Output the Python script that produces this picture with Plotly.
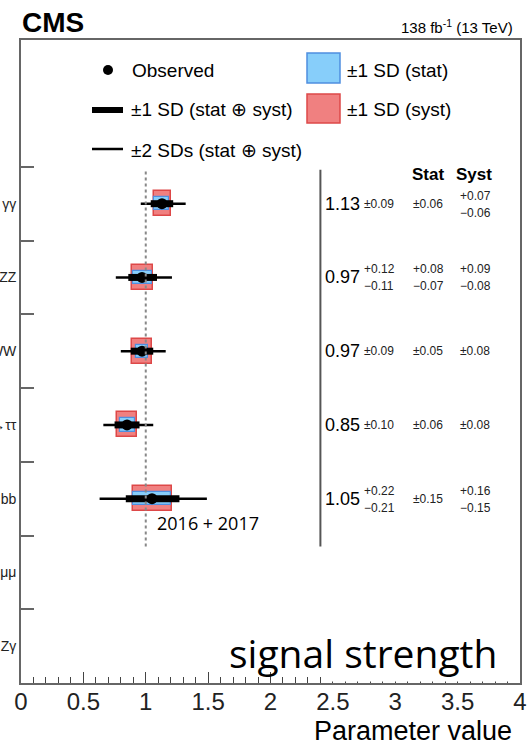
import plotly.graph_objects as go

# ---------------- data ----------------
categories = ["H→γγ", "H→ZZ", "H→WW", "H→ττ", "H→bb", "H→μμ", "H→Zγ"]
cat_y = [6.5, 5.5, 4.5, 3.5, 2.5, 1.5, 0.5]

# measured channels (first five categories)
mu = [1.13, 0.97, 0.97, 0.85, 1.05]
tot_up = [0.09, 0.12, 0.09, 0.10, 0.22]
tot_dn = [0.09, 0.11, 0.09, 0.10, 0.21]
stat_up = [0.06, 0.08, 0.05, 0.06, 0.15]
stat_dn = [0.06, 0.07, 0.05, 0.06, 0.15]
syst_up = [0.07, 0.09, 0.08, 0.08, 0.16]
syst_dn = [0.06, 0.08, 0.08, 0.08, 0.15]
two_up = [0.19, 0.24, 0.19, 0.21, 0.44]
two_dn = [0.17, 0.21, 0.17, 0.19, 0.42]

x_ticks = [0, 0.5, 1, 1.5, 2, 2.5, 3, 3.5, 4]
x_tick_labels = ["0", "0.5", "1", "1.5", "2", "2.5", "3", "3.5", "4"]

# ---------------- layout geometry ----------------
W, H = 528, 740
PL, PR, PT, PB = 21, 520, 40, 683
def px_x(px):
    return (px - PL) / (PR - PL)
def px_y(py):
    return (PB - py) / (PB - PT)

FONT = "Liberation Sans, Arial, Helvetica, sans-serif"
RED_FILL, RED_LINE = "#f08080", "#dd4848"
BLUE_FILL, BLUE_LINE = "#87cefa", "#4f8fe0"

n = len(mu)
ys = cat_y[:n]

fig = go.Figure()

# syst boxes (red)
fig.add_trace(go.Bar(
    orientation="h", y=ys,
    x=[u + d for u, d in zip(syst_up, syst_dn)],
    base=[m - d for m, d in zip(mu, syst_dn)],
    width=0.34, marker=dict(color=RED_FILL, line=dict(color=RED_LINE, width=1.5)),
    showlegend=False, hoverinfo="skip"))
# stat boxes (blue)
fig.add_trace(go.Bar(
    orientation="h", y=ys,
    x=[u + d for u, d in zip(stat_up, stat_dn)],
    base=[m - d for m, d in zip(mu, stat_dn)],
    width=0.18, marker=dict(color=BLUE_FILL, line=dict(color=BLUE_LINE, width=1.2)),
    showlegend=False, hoverinfo="skip"))

def seg(lo, hi, yv):
    xs, yy = [], []
    for a, b, c in zip(lo, hi, yv):
        xs += [a, b, None]
        yy += [c, c, None]
    return xs, yy

# +-2 SD thin lines
xs, yy = seg([m - d for m, d in zip(mu, two_dn)], [m + u for m, u in zip(mu, two_up)], ys)
fig.add_trace(go.Scatter(x=xs, y=yy, mode="lines", line=dict(color="black", width=2.5),
                         showlegend=False, hoverinfo="skip"))
# +-1 SD thick lines
xs, yy = seg([m - d for m, d in zip(mu, tot_dn)], [m + u for m, u in zip(mu, tot_up)], ys)
fig.add_trace(go.Scatter(x=xs, y=yy, mode="lines", line=dict(color="black", width=7),
                         showlegend=False, hoverinfo="skip"))
# observed
fig.add_trace(go.Scatter(x=mu, y=ys, mode="markers", marker=dict(color="black", size=11),
                         showlegend=False, hoverinfo="skip"))

# SM reference (dotted) and table separator
fig.add_trace(go.Scatter(x=[1, 1], y=[1.85, 6.96], mode="lines",
                         line=dict(color="#888888", width=2, dash="3px,3px"),
                         showlegend=False, hoverinfo="skip"))
fig.add_trace(go.Scatter(x=[2.4, 2.4], y=[1.85, 6.96], mode="lines",
                         line=dict(color="#555555", width=2),
                         showlegend=False, hoverinfo="skip"))

ann = []
shapes = []

def fmt(v):
    return f"{v:.2f}"

def add_err(x, y, up, dn, anchor, size):
    if abs(up - dn) < 1e-9:
        ann.append(dict(x=x, y=y, xref="x", yref="y", text="±" + fmt(up), showarrow=False,
                        xanchor=anchor, yanchor="middle", font=dict(size=size, family=FONT, color="#222")))
    else:
        ann.append(dict(x=x, y=y, xref="x", yref="y", text="+" + fmt(up), showarrow=False,
                        xanchor=anchor, yanchor="middle", yshift=8,
                        font=dict(size=size, family=FONT, color="#222")))
        ann.append(dict(x=x, y=y, xref="x", yref="y", text="−" + fmt(dn), showarrow=False,
                        xanchor=anchor, yanchor="middle", yshift=-9,
                        font=dict(size=size, family=FONT, color="#222")))

for i in range(n):
    y = ys[i]
    ann.append(dict(x=2.73, y=y, xref="x", yref="y", text=fmt(mu[i]), showarrow=False,
                    xanchor="right", yanchor="middle", font=dict(size=18, family=FONT, color="black")))
    add_err(2.735, y, tot_up[i], tot_dn[i], "left", 12)
    add_err(3.263, y, stat_up[i], stat_dn[i], "center", 12)
    add_err(3.64, y, syst_up[i], syst_dn[i], "center", 12)

ann.append(dict(x=3.26, y=6.89, xref="x", yref="y", text="<b>Stat</b>", showarrow=False,
                xanchor="center", yanchor="middle", font=dict(size=17, family=FONT, color="black")))
ann.append(dict(x=3.63, y=6.89, xref="x", yref="y", text="<b>Syst</b>", showarrow=False,
                xanchor="center", yanchor="middle", font=dict(size=17, family=FONT, color="black")))

# header texts
ann.append(dict(x=px_x(20), y=px_y(23), xref="paper", yref="paper", text="<b>CMS</b>", showarrow=False,
                xanchor="left", yanchor="middle", font=dict(size=28, family=FONT, color="black")))
ann.append(dict(x=px_x(515), y=px_y(27), xref="paper", yref="paper",
                text="138 fb<sup>-1</sup> (13 TeV)", showarrow=False,
                xanchor="right", yanchor="middle", font=dict(size=15, family=FONT, color="black")))

# legend
LEGF = dict(size=19, family=FONT, color="black")
for txt, xp, yp in [("Observed", 130, 70), ("±1 SD (stat ⊕ syst)", 129, 110),
                    ("±2 SDs (stat ⊕ syst)", 129, 150), ("±1 SD (stat)", 345, 70),
                    ("±1 SD (syst)", 345, 110)]:
    ann.append(dict(x=px_x(xp), y=px_y(yp), xref="paper", yref="paper", text=txt, showarrow=False,
                    xanchor="left", yanchor="middle", font=LEGF))
shapes.append(dict(type="circle", xref="paper", yref="paper", x0=px_x(103), x1=px_x(113),
                   y0=px_y(75), y1=px_y(65), fillcolor="black", line=dict(width=0)))
shapes.append(dict(type="line", xref="paper", yref="paper", x0=px_x(92), x1=px_x(123),
                   y0=px_y(110), y1=px_y(110), line=dict(color="black", width=6)))
shapes.append(dict(type="line", xref="paper", yref="paper", x0=px_x(92), x1=px_x(123),
                   y0=px_y(149), y1=px_y(149), line=dict(color="black", width=2.5)))
shapes.append(dict(type="rect", xref="paper", yref="paper", x0=px_x(307), x1=px_x(340),
                   y0=px_y(83), y1=px_y(53), fillcolor=BLUE_FILL, line=dict(color=BLUE_LINE, width=1.5)))
shapes.append(dict(type="rect", xref="paper", yref="paper", x0=px_x(307), x1=px_x(340),
                   y0=px_y(123), y1=px_y(94), fillcolor=RED_FILL, line=dict(color=RED_LINE, width=1.5)))

# overlay: white box covering lower right, with text
shapes.append(dict(type="rect", xref="x", yref="y", x0=2.42, x1=3.99, y0=0.02, y1=0.9,
                   fillcolor="white", line=dict(width=0), layer="above"))
ann.append(dict(x=px_x(499), y=px_y(652), xref="paper", yref="paper", text="signal strength",
                showarrow=False, xanchor="right", yanchor="middle",
                font=dict(size=39, family="Open Sans, Lato, sans-serif", color="black")))
ann.append(dict(x=px_x(155), y=px_y(523), xref="paper", yref="paper", text="2016 + 2017",
                showarrow=False, xanchor="left", yanchor="middle",
                font=dict(size=18, family="Open Sans, Lato, sans-serif", color="black")))

# axis title
ann.append(dict(x=px_x(514), y=px_y(714), xref="paper", yref="paper", text="Parameter value",
                showarrow=False, xanchor="right", yanchor="top",
                font=dict(size=27, family=FONT, color="black")))

fig.update_layout(
    width=W, height=H,
    margin=dict(l=PL, r=W - PR, t=PT, b=H - PB, autoexpand=False),
    plot_bgcolor="white", paper_bgcolor="white",
    barmode="overlay", bargap=0,
    annotations=ann, shapes=shapes,
    showlegend=False,
    xaxis=dict(range=[0, 4], tickvals=x_ticks, ticktext=x_tick_labels,
               ticks="inside", ticklen=11, tickwidth=1.2, tickcolor="#444",
               ticklabelstandoff=-4,
               minor=dict(dtick=0.1, tick0=0, ticks="inside", ticklen=6, tickwidth=1, tickcolor="#444"),
               showline=True, mirror=True, linecolor="#666", linewidth=1.8,
               showgrid=False, zeroline=False,
               tickfont=dict(size=24, family=FONT, color="#222")),
    yaxis=dict(range=[0, 8.72], tickvals=cat_y, ticktext=categories, ticks="",
               minor=dict(tickvals=[1, 2, 3, 4, 5, 6, 7], ticks="inside", ticklen=13,
                          tickwidth=1.5, tickcolor="#666"),
               showline=True, mirror=True, linecolor="#666", linewidth=1.8,
               showgrid=False, zeroline=False,
               tickfont=dict(size=14, family=FONT, color="#222")),
)

fig.write_html("out.html", config={"displayModeBar": False},
               post_script="document.body.style.margin='0';document.body.style.overflow='hidden';")
